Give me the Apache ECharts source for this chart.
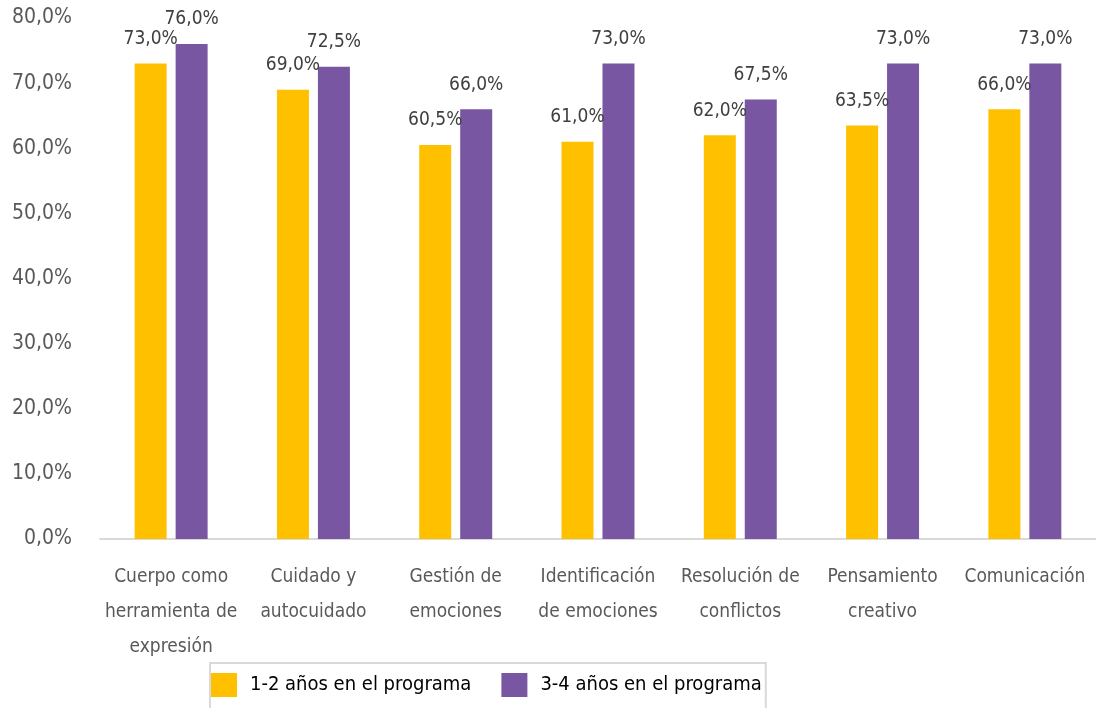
<!DOCTYPE html>
<html>
<head>
<meta charset="utf-8">
<script src="https://cdn.jsdelivr.net/npm/echarts@6/dist/echarts.min.js"></script>
<style>
html,body{margin:0;padding:0;background:#fff;}
#chart{width:1096px;height:708px;}
</style>
</head>
<body>
<div id="chart"></div>
<script>
const categories = [
  "Cuerpo como\nherramienta de\nexpresión",
  "Cuidado y\nautocuidado",
  "Gestión de\nemociones",
  "Identificación\nde emociones",
  "Resolución de\nconflictos",
  "Pensamiento\ncreativo",
  "Comunicación"
];
const seriesNames = ["1-2 años en el programa", "3-4 años en el programa"];
const values12 = [73.0, 69.0, 60.5, 61.0, 62.0, 63.5, 66.0];
const values34 = [76.0, 72.5, 66.0, 73.0, 67.5, 73.0, 73.0];
const colors = ["#FFC000", "#7956A2"];

const FONT = "'DejaVu Sans Condensed', 'DejaVu Sans', sans-serif";
const fmt = v => v.toFixed(1).replace(".", ",") + "%";

const chart = echarts.init(document.getElementById("chart"), null, {renderer: "canvas"});
const labelStyle = {
  show: true, position: "top", distance: 15,
  fontFamily: FONT, fontSize: 19, color: "#404040",
  formatter: p => fmt(p.value)
};
chart.setOption({
  animation: false,
  textStyle: {fontFamily: FONT},
  grid: {left: 100, top: 18, width: 1001, height: 521, containLabel: false},
  legend: {
    left: 210, top: 663,
    data: seriesNames,
    icon: "rect",
    itemWidth: 26, itemHeight: 24, itemGap: 30,
    padding: [10, 4, 12, 1],
    borderColor: "#d9d9d9", borderWidth: 2,
    textStyle: {fontFamily: FONT, fontSize: 20, color: "#000", padding: [0, 0, 0, 8]}
  },
  xAxis: {
    type: "category",
    data: categories,
    axisLine: {lineStyle: {color: "#d9d9d9", width: 2}},
    axisTick: {show: false},
    axisLabel: {
      interval: 0, margin: 21, lineHeight: 35,
      fontFamily: FONT, fontSize: 19, color: "#595959"
    }
  },
  yAxis: {
    type: "value", min: 0, max: 80, interval: 10,
    axisLine: {show: false}, axisTick: {show: false},
    splitLine: {show: false},
    axisLabel: {
      margin: 28, fontFamily: FONT, fontSize: 21, color: "#595959",
      formatter: v => v.toFixed(1).replace(".", ",") + "%"
    }
  },
  series: [
    {name: seriesNames[0], type: "bar", data: values12, barWidth: 32, barGap: "28%",
     itemStyle: {color: colors[0]}, label: labelStyle},
    {name: seriesNames[1], type: "bar", data: values34, barWidth: 32,
     itemStyle: {color: colors[1]}, label: labelStyle}
  ]
});
</script>
</body>
</html>
